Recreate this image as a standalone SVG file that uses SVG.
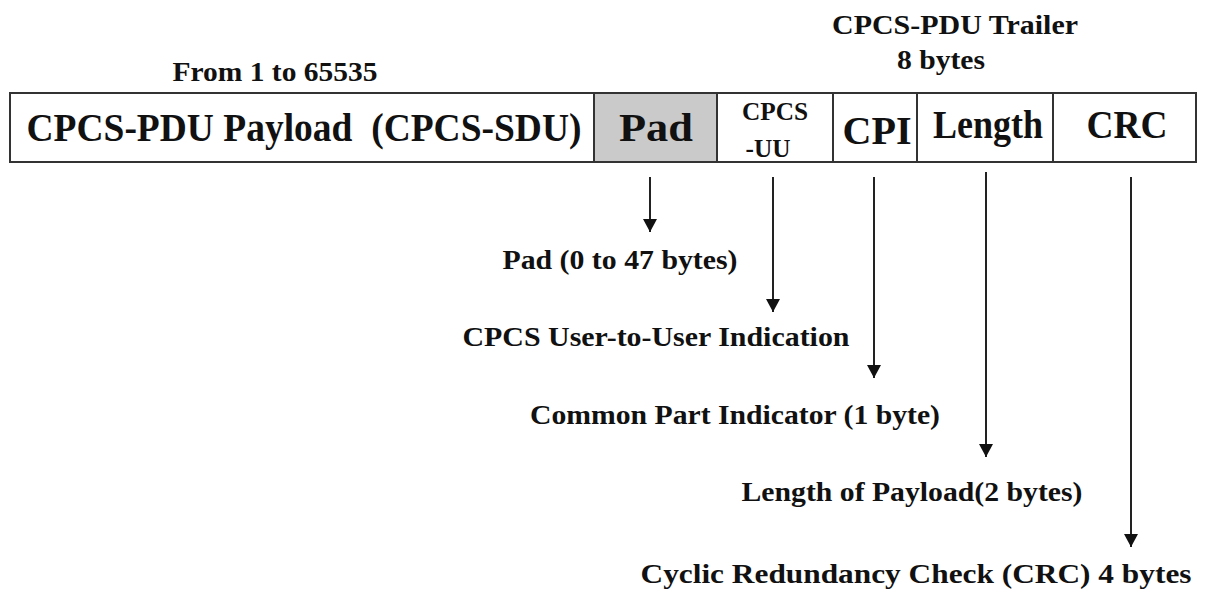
<svg xmlns="http://www.w3.org/2000/svg" width="1207" height="589" viewBox="0 0 1207 589">
  <style>
    .t { font-family: "Liberation Serif", "Times New Roman", serif; font-weight: bold; fill: #111; white-space: pre; }
    .cell { stroke: #333; stroke-width: 2; fill: #fff; }
    .pad { fill: #cacaca; }
    .conn { stroke: #222; stroke-width: 2; fill: none; marker-end: url(#head); }
  </style>
  <defs>
    <!-- solid triangular arrowhead, tip at the line end -->
    <marker id="head" markerWidth="14" markerHeight="14" refX="13" refY="7" orient="auto" markerUnits="userSpaceOnUse" viewBox="0 0 14 14">
      <path d="M0,0 L13,7 L0,14 Z" fill="#111"/>
    </marker>
  </defs>

  <rect width="1207" height="589" fill="#fff"/>

  <!-- size annotations above the frame -->
  <g id="payload-size">
    <text class="t" x="275" y="81" font-size="27" text-anchor="middle" textLength="205" lengthAdjust="spacingAndGlyphs">From 1 to 65535</text>
  </g>
  <g id="trailer-size">
    <text class="t" x="955" y="34" font-size="27" text-anchor="middle" textLength="246" lengthAdjust="spacingAndGlyphs">CPCS-PDU Trailer</text>
    <text class="t" x="941" y="69" font-size="27" text-anchor="middle" textLength="88" lengthAdjust="spacingAndGlyphs">8 bytes</text>
  </g>

  <!-- CPCS-PDU frame fields -->
  <g id="field-payload">
    <rect class="cell" x="10" y="93" width="584" height="69"/>
    <text class="t" x="304" y="141" font-size="39" text-anchor="middle" textLength="555" lengthAdjust="spacingAndGlyphs">CPCS-PDU Payload  (CPCS-SDU)</text>
  </g>
  <g id="field-pad">
    <rect class="cell pad" x="594" y="93" width="123" height="69"/>
    <text class="t" x="656" y="141" font-size="41" text-anchor="middle" textLength="74" lengthAdjust="spacingAndGlyphs">Pad</text>
  </g>
  <g id="field-cpcs-uu">
    <rect class="cell" x="717" y="93" width="116" height="69"/>
    <text class="t" x="775" y="120" font-size="26" text-anchor="middle" textLength="66" lengthAdjust="spacingAndGlyphs">CPCS</text>
    <text class="t" x="768" y="157" font-size="26" text-anchor="middle" textLength="45" lengthAdjust="spacingAndGlyphs">-UU</text>
  </g>
  <g id="field-cpi">
    <rect class="cell" x="833" y="93" width="84" height="69"/>
    <text class="t" x="877" y="144" font-size="41" text-anchor="middle" textLength="69" lengthAdjust="spacingAndGlyphs">CPI</text>
  </g>
  <g id="field-length">
    <rect class="cell" x="917" y="93" width="136" height="69"/>
    <text class="t" x="988" y="138" font-size="39" text-anchor="middle" textLength="110" lengthAdjust="spacingAndGlyphs">Length</text>
  </g>
  <g id="field-crc">
    <rect class="cell" x="1053" y="93" width="143" height="69"/>
    <text class="t" x="1127" y="138" font-size="39" text-anchor="middle" textLength="81" lengthAdjust="spacingAndGlyphs">CRC</text>
  </g>

  <!-- pointers from each field down to its description -->
  <g id="connectors">
    <line class="conn" x1="650" y1="177" x2="650" y2="232"/>
    <line class="conn" x1="773" y1="177" x2="773" y2="312"/>
    <line class="conn" x1="874" y1="177" x2="874" y2="378"/>
    <line class="conn" x1="986" y1="172" x2="986" y2="457"/>
    <line class="conn" x1="1131" y1="177" x2="1131" y2="547"/>
  </g>

  <!-- field descriptions -->
  <g id="desc-pad">
    <text class="t" x="620" y="269" font-size="27" text-anchor="middle" textLength="235" lengthAdjust="spacingAndGlyphs">Pad (0 to 47 bytes)</text>
  </g>
  <g id="desc-cpcs-uu">
    <text class="t" x="656" y="346" font-size="27" text-anchor="middle" textLength="387" lengthAdjust="spacingAndGlyphs">CPCS User-to-User Indication</text>
  </g>
  <g id="desc-cpi">
    <text class="t" x="735" y="424" font-size="27" text-anchor="middle" textLength="410" lengthAdjust="spacingAndGlyphs">Common Part Indicator (1 byte)</text>
  </g>
  <g id="desc-length">
    <text class="t" x="912" y="501" font-size="27" text-anchor="middle" textLength="341" lengthAdjust="spacingAndGlyphs">Length of Payload(2 bytes)</text>
  </g>
  <g id="desc-crc">
    <text class="t" x="916" y="583" font-size="27" text-anchor="middle" textLength="551" lengthAdjust="spacingAndGlyphs">Cyclic Redundancy Check (CRC) 4 bytes</text>
  </g>
</svg>
